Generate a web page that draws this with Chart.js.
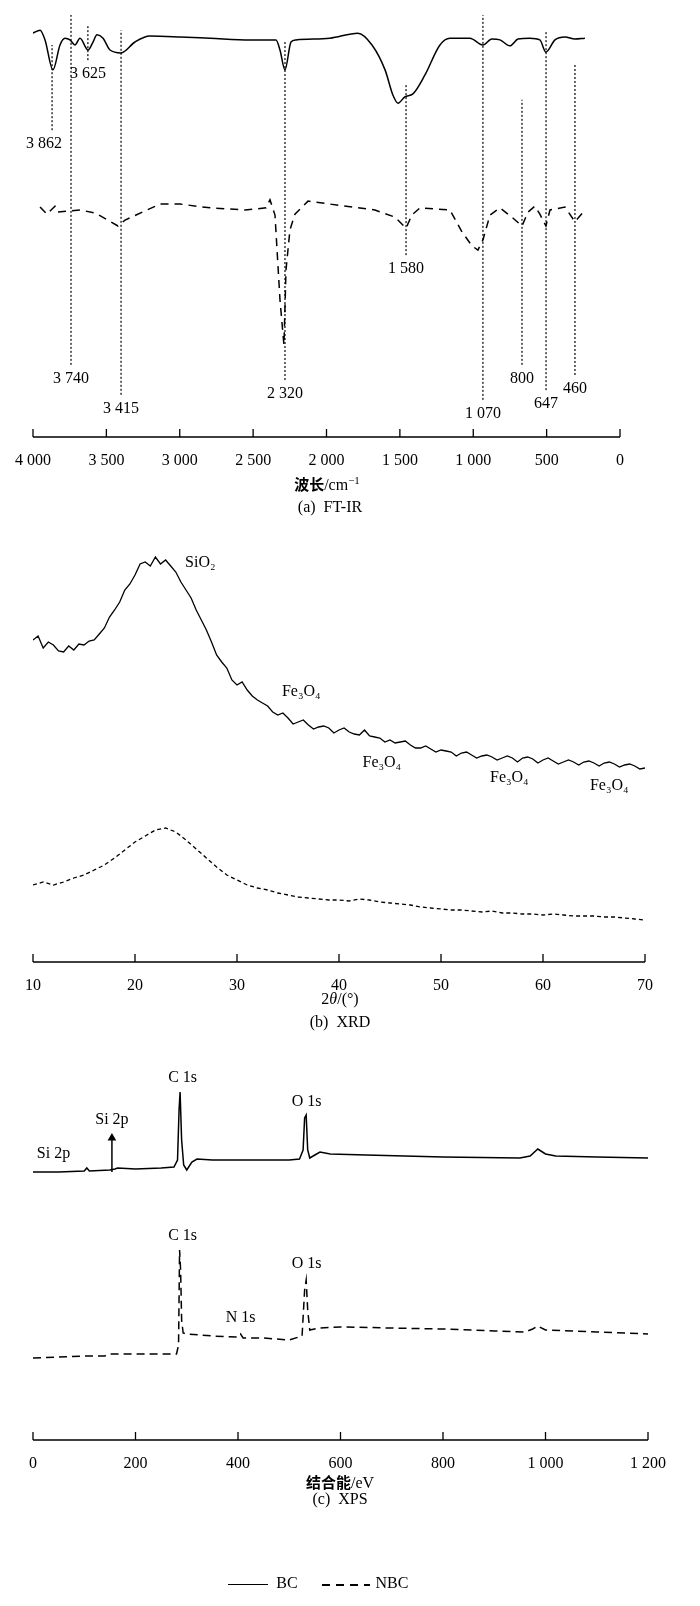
<!DOCTYPE html>
<html>
<head>
<meta charset="utf-8">
<script src="https://cdn.jsdelivr.net/npm/chart.js@4"></script>
<style>
  body { margin: 0; background: #fff; }
  #wrap { position: relative; width: 700px; height: 1606px; font-family: "Liberation Serif", serif; color: #000; }
  canvas { position: absolute; left: 0; }
  .txt { position: absolute; font-size: 16px; white-space: nowrap; transform: translateX(-50%); }
  .cn { font-family: "Noto Sans CJK SC", sans-serif; font-weight: bold; font-size: 15px; }
</style>
</head>
<body>
<div id="wrap">
  <canvas id="ftir" width="700" height="475" style="top:0"></canvas>
  <canvas id="xrd" width="700" height="475" style="top:525px"></canvas>
  <canvas id="xps" width="700" height="468" style="top:1010px"></canvas>

  <div class="txt" style="left:327px;top:473px"><span class="cn">波长</span>/cm<sup style="font-size:11px">−1</sup></div>
  <div class="txt" style="left:330px;top:498px">(a)&nbsp;&nbsp;FT-IR</div>
  <div class="txt" style="left:340px;top:990px">2<i>θ</i>/(°)</div>
  <div class="txt" style="left:340px;top:1013px">(b)&nbsp;&nbsp;XRD</div>
  <div class="txt" style="left:340px;top:1471px"><span class="cn">结合能</span>/eV</div>
  <div class="txt" style="left:340px;top:1490px">(c)&nbsp;&nbsp;XPS</div>

  <div style="position:absolute;left:228px;top:1584px;width:40px;border-top:1.5px solid #000"></div>
  <div class="txt" style="left:287px;top:1574px">BC</div>
  <div style="position:absolute;left:322px;top:1584px;width:48px;height:1.5px;background:repeating-linear-gradient(90deg,#000 0 8px,transparent 8px 14px)"></div>
  <div class="txt" style="left:392px;top:1574px">NBC</div>
</div>
<script>
// ---------- (a) FT-IR ----------
const irBC = [[4000,95.7],[3952,96.4],[3918,94.1],[3864,87.0],[3816,92.9],[3782,94.5],[3748,94.1],[3714,92.9],[3680,94.5],[3625,91.7],[3591,93.6],[3564,95.3],[3523,94.5],[3475,91.7],[3400,91.0],[3305,93.6],[3203,95.0],[2998,94.8],[2794,94.5],[2521,94.1],[2344,94.1],[2317,91.7],[2283,87.0],[2242,93.6],[2208,94.1],[1977,94.5],[1786,95.7],[1690,92.9],[1601,87.0],[1547,81.0],[1513,79.1],[1466,80.6],[1411,81.3],[1329,85.8],[1227,92.9],[1159,94.5],[1023,94.5],[934,92.9],[873,94.3],[818,94.1],[750,92.7],[695,94.3],[614,94.5],[546,94.1],[505,91.2],[443,94.1],[375,94.8],[307,94.3],[239,94.5]];
const irNBC = [[3952,54.5],[3905,52.8],[3850,54.7],[3830,53.3],[3741,53.6],[3680,53.8],[3578,53.1],[3489,51.4],[3421,50.0],[3373,51.4],[3134,55.2],[2998,55.2],[2794,54.3],[2555,53.8],[2412,54.3],[2385,56.2],[2351,52.6],[2317,32.5],[2290,21.8],[2276,39.6],[2249,49.1],[2215,52.8],[2126,55.9],[1977,55.2],[1670,53.8],[1534,52.1],[1458,49.5],[1418,52.6],[1363,54.3],[1159,53.8],[1077,48.6],[1009,45.3],[968,44.3],[934,46.7],[886,52.6],[818,54.3],[730,51.9],[668,50.0],[627,53.3],[580,54.7],[546,52.8],[505,50.0],[477,53.8],[375,54.5],[307,51.0],[239,53.8]];
const irMarkX = [3870,3741,3626,3400,2283,1458,934,668,504,307];
const irMarkTop = [92.9,100,97.6,96.4,94.1,83.4,100,79.9,96.4,88.2];
const irMarkBot = [72.7,17.1,89.3,10.0,13.5,43.1,8.8,17.1,11.1,14.7];
const irMarkLabel = ['3 862','3 740','3 625','3 415','2 320','1 580','1 070','800','647','460'];

// ---------- (b) XRD ----------
const xrdStart = 10;
const xrdBC = [322,326,314,320,317,311,310,316,312,318,317,321,322,328,334,345,352,360,372,378,387,398,400,396,405,398,402,396,390,380,372,364,352,342,332,320,307,300,294,282,277,280,272,266,262,259,256,250,247,249,244,238,240,242,237,233,235,236,234,229,232,234,230,228,227,232,226,225,224,220,222,219,220,221,217,214,214,216,213,210,212,211,210,206,209,210,207,204,206,207,205,202,204,206,204,200,204,205,203,199,202,204,201,198,200,202,200,197,200,201,199,196,199,200,198,195,197,198,196,193,194];
const xrdNBC = [77,80,77,80,84,87,92,97,104,112,120,126,132,134,130,122,113,104,95,87,82,77,74,72,69,67,65,64,63,62,62,61,63,62,60,59,58,57,55,54,53,52,52,51,50,51,49,49,48,48,47,48,47,46,46,46,45,45,44,43,42];
const xrdLabels = [['SiO₂',26.4,399],['Fe₃O₄',36.3,270],['Fe₃O₄',44.2,199],['Fe₃O₄',56.7,184],['Fe₃O₄',66.5,176]];

// ---------- (c) XPS ----------
const xpsBC = [[0,268],[50,268],[100,269],[105,272],[110,269],[150,270],[160,271],[165,272],[200,271],[250,272],[275,273],[282,280],[285,330],[287,348],[290,300],[294,275],[300,270],[310,278],[320,281],[350,280],[400,280],[450,280],[500,280],[520,281],[527,290],[530,322],[533,325],[536,290],[540,282],[550,285],[560,288],[580,286],[650,285],[800,283],[950,282],[970,284],[985,291],[1000,286],[1020,284],[1100,283],[1200,282]];
const xpsNBC = [[0,82],[50,83],[100,84],[140,84],[150,86],[200,86],[280,86],[284,95],[286,190],[288,170],[290,120],[293,107],[300,106],[350,104],[400,103],[405,106],[410,102],[450,102],[500,100],[525,104],[530,150],[533,160],[536,130],[540,110],[560,112],[600,113],[700,112],[800,111],[900,109],[960,108],[975,111],[985,114],[1000,110],[1100,108],[1200,106]];
const siArrow = [[154,268],[154,302]];
const xpsLabels = [['Si 2p',40,286],['Si 2p',154,320],['C 1s',292,362],['O 1s',534,338],['C 1s',292,204],['N 1s',405,122],['O 1s',534,176]];

const FONT = { family: 'Liberation Serif', size: 16 };
const pts = arr => arr.map(p => ({ x: p[0], y: p[1] }));

// ticks pointing up from the axis line, plus text labels in data space
const decor = {
  id: 'decor',
  afterDraw(chart, args, opts) {
    const { ctx, scales: { x, y }, chartArea } = chart;
    ctx.save();
    ctx.strokeStyle = '#000';
    ctx.lineWidth = 1.3;
    ctx.beginPath();
    ctx.moveTo(chartArea.left, chartArea.bottom);
    ctx.lineTo(chartArea.right, chartArea.bottom);
    x.ticks.forEach(t => {
      const px = x.getPixelForValue(t.value);
      ctx.moveTo(px, chartArea.bottom);
      ctx.lineTo(px, chartArea.bottom - 8);
    });
    ctx.stroke();
    ctx.fillStyle = '#000';
    ctx.font = '16px "Liberation Serif"';
    ctx.textAlign = 'center';
    ctx.textBaseline = 'middle';
    (opts.labels || []).forEach(l => {
      ctx.fillText(l[0], x.getPixelForValue(l[1]), y.getPixelForValue(l[2]) + (l[3] || 0));
    });
    ctx.restore();
  }
};

function xAxis(min, max, step, reverse, fmt) {
  return {
    type: 'linear', min, max, reverse,
    grid: { display: false },
    border: { display: false },
    afterFit: s => { s.height = 30; },
    afterBuildTicks: s => {
      const t = [];
      for (let v = min; v <= max + 1e-9; v += step) t.push({ value: v });
      s.ticks = t;
    },
    ticks: { color: '#000', font: FONT, padding: 6, maxRotation: 0, autoSkip: false,
      callback: v => fmt(v) }
  };
}
const spaced = v => v >= 1000 ? String(v).replace(/(\d)(\d{3})$/, '$1 $2') : String(v);

const baseOpts = (xa, ymax, pad, labels) => ({
  responsive: false, animation: false,
  layout: { padding: pad },
  plugins: { legend: { display: false }, tooltip: { enabled: false }, decor: { labels } },
  elements: { point: { radius: 0 } },
  scales: { x: xa, y: { display: false, min: 0, max: ymax } }
});

// (a)
const irSets = [
  { data: pts(irBC), borderColor: '#000', borderWidth: 1.5, cubicInterpolationMode: 'monotone' },
  { data: pts(irNBC), borderColor: '#000', borderWidth: 1.5, borderDash: [8, 6] }
];
const irLabels = [];
irMarkX.forEach((mx, i) => {
  irSets.push({ data: [{ x: mx, y: irMarkBot[i] }, { x: mx, y: irMarkTop[i] }],
    borderColor: '#000', borderWidth: 1.2, borderDash: [2, 2] });
  irLabels.push([irMarkLabel[i], mx, irMarkBot[i], 14]);
});
irLabels[0][1] = 3925;
new Chart(document.getElementById('ftir'), {
  type: 'line', data: { datasets: irSets },
  options: baseOpts(xAxis(0, 4000, 500, true, spaced), 100, { left: 33, right: 80, top: 15, bottom: 8 }, irLabels),
  plugins: [decor]
});

// (b)
const xrdA = xrdBC.map((v, i) => ({ x: xrdStart + i * 0.5, y: v }));
const xrdB = xrdNBC.map((v, i) => ({ x: xrdStart + i, y: v }));
new Chart(document.getElementById('xrd'), {
  type: 'line',
  data: { datasets: [
    { data: xrdA, borderColor: '#000', borderWidth: 1.3 },
    { data: xrdB, borderColor: '#000', borderWidth: 1.3, borderDash: [4, 3] }
  ] },
  options: baseOpts(xAxis(10, 70, 10, false, v => String(v)), 422, { left: 33, right: 55, top: 15, bottom: 8 }, xrdLabels),
  plugins: [decor]
});

// (c)
new Chart(document.getElementById('xps'), {
  type: 'line',
  data: { datasets: [
    { data: pts(xpsBC), borderColor: '#000', borderWidth: 1.5 },
    { data: pts(xpsNBC), borderColor: '#000', borderWidth: 1.5, borderDash: [8, 5] },
    { data: pts(siArrow), borderColor: '#000', borderWidth: 1.5,
      pointRadius: [0, 5], pointStyle: 'triangle', pointBackgroundColor: '#000', pointBorderWidth: 0 }
  ] },
  options: baseOpts(xAxis(0, 1200, 200, false, spaced), 380, { left: 33, right: 52, top: 50, bottom: 8 }, xpsLabels),
  plugins: [decor]
});
</script>
</body>
</html>
